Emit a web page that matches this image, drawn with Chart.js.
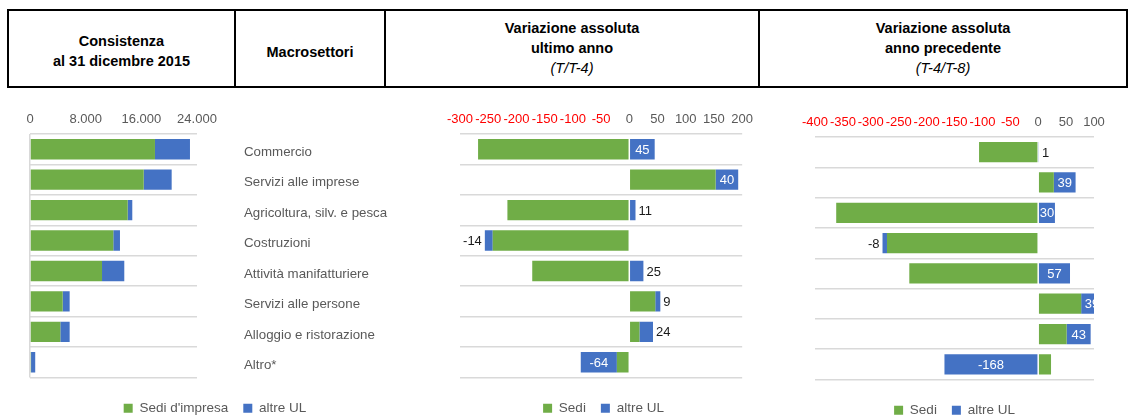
<!DOCTYPE html>
<html>
<head>
<meta charset="utf-8">
<script src="https://cdn.jsdelivr.net/npm/chart.js@4"></script>
<style>
  body { margin: 0; width: 1130px; height: 416px; overflow: hidden; background: #fff;
         position: relative; font-family: "Liberation Sans", Arial, sans-serif; }
  #head { position: absolute; left: 7px; top: 9px; width: 1117px; height: 75px; border: 2px solid #000; }
  .sep { position: absolute; top: 0; width: 2px; height: 75px; background: #000; }
  .cell { position: absolute; top: 0; height: 75px; text-align: center; color: #000;
          font-size: 14.5px; font-weight: bold; }
  .cell div { position: absolute; left: 0; right: 0; line-height: 20px; }
  .cell .it { font-style: italic; font-weight: normal; }
  canvas { position: absolute; }
</style>
</head>
<body>

<div id="head">
  <div class="cell" style="left:0;width:225px">
    <div style="top:20px">Consistenza</div>
    <div style="top:40px">al 31 dicembre 2015</div>
  </div>
  <div class="sep" style="left:225px"></div>
  <div class="cell" style="left:227px;width:148px">
    <div style="top:31px">Macrosettori</div>
  </div>
  <div class="sep" style="left:375px"></div>
  <div class="cell" style="left:377px;width:372px">
    <div style="top:7px">Variazione assoluta</div>
    <div style="top:27px">ultimo anno</div>
    <div class="it" style="top:47px">(T/T-4)</div>
  </div>
  <div class="sep" style="left:749px"></div>
  <div class="cell" style="left:751px;width:366px">
    <div style="top:7px">Variazione assoluta</div>
    <div style="top:27px">anno precedente</div>
    <div class="it" style="top:47px">(T-4/T-8)</div>
  </div>
</div>

<canvas id="c1" width="400" height="325" style="left:0;top:100px"></canvas>
<canvas id="c2" width="320" height="325" style="left:440px;top:100px"></canvas>
<canvas id="c3" width="322" height="325" style="left:790px;top:102px"></canvas>

<script>
// ---- dati ----
const categories = ['Commercio', 'Servizi alle imprese', 'Agricoltura, silv. e pesca', 'Costruzioni',
  'Attività manifatturiere', 'Servizi alle persone', 'Alloggio e ristorazione', 'Altro*'];

// consistenza al 31/12/2015
const stockSedi  = [17960, 16340, 14040, 11970, 10350, 4700, 4360, 150];
const stockAltre = [5030, 4020, 660, 960, 3200, 1000, 1340, 600];

// variazione ultimo anno (T/T-4)
const varSedi  = [-268, 153, -216, -242, -172, 46, 18, -22];
const varAltre = [45, 40, 11, -14, 25, 9, 24, -64];

// variazione anno precedente (T-4/T-8)
const prevSedi  = [-106, 28, -362, -271, -231, 77, 51, 23];
const prevAltre = [1, 39, 30, -8, 57, 39, 43, -168];

// assi
const stockTicks = [0, 8000, 16000, 24000];
const varTicks  = [-300, -250, -200, -150, -100, -50, 0, 50, 100, 150, 200];
const prevTicks = [-400, -350, -300, -250, -200, -150, -100, -50, 0, 50, 100];

const GREEN = '#70ad47';
const BLUE = '#4472c4';
const GRID = '#d9d9d9';
const TXT = '#595959';
const FONT = '"Liberation Sans", Arial, sans-serif';

Chart.defaults.font.family = FONT;
Chart.defaults.color = TXT;

const fmt = v => String(v).replace(/\B(?=(\d{3})+(?!\d))/g, '.');

// etichette della serie "altre UL": dentro la barra se ci sta, altrimenti fuori
const barLabels = {
  id: 'barLabels',
  afterDatasetsDraw(chart) {
    const ds = chart.data.datasets[1];
    const meta = chart.getDatasetMeta(1);
    const a = chart.chartArea;
    const ctx = chart.ctx;
    ctx.save();
    ctx.beginPath();
    ctx.rect(a.left, a.top, a.right - a.left, a.bottom - a.top);
    ctx.clip();
    ctx.font = '13px ' + FONT;
    ctx.textBaseline = 'middle';
    meta.data.forEach((bar, i) => {
      const v = ds.data[i];
      const t = String(v);
      const w = ctx.measureText(t).width;
      const len = Math.abs(bar.x - bar.base);
      if (len >= w + 1) {
        ctx.fillStyle = '#fff';
        ctx.textAlign = 'center';
        ctx.fillText(t, (bar.x + bar.base) / 2, bar.y + 1);
      } else if (v >= 0) {
        ctx.fillStyle = '#1a1a1a';
        ctx.textAlign = 'left';
        ctx.fillText(t, Math.max(bar.x, bar.base) + 3, bar.y + 1);
      } else {
        ctx.fillStyle = '#1a1a1a';
        ctx.textAlign = 'right';
        ctx.fillText(t, Math.min(bar.x, bar.base) - 3, bar.y + 1);
      }
    });
    ctx.restore();
  }
};

function makeChart(id, sedi, altre, names, ticks, opts) {
  const tickSet = ticks;
  return new Chart(document.getElementById(id), {
    type: 'bar',
    data: {
      labels: categories,
      datasets: [
        { label: names[0], data: sedi, backgroundColor: GREEN, barPercentage: 0.67, categoryPercentage: 1 },
        { label: names[1], data: altre, backgroundColor: BLUE, barPercentage: 0.67, categoryPercentage: 1 }
      ]
    },
    options: {
      indexAxis: 'y',
      responsive: false,
      animation: false,
      layout: { padding: opts.padding },
      plugins: {
        tooltip: { enabled: false },
        legend: {
          position: 'bottom',
          labels: { boxWidth: 9, boxHeight: 9, padding: 15, color: TXT, font: { size: 13.5 } }
        }
      },
      scales: {
        x: {
          type: 'linear',
          position: 'top',
          stacked: true,
          min: tickSet[0],
          max: tickSet[tickSet.length - 1],
          afterBuildTicks: s => { s.ticks = tickSet.map(v => ({ value: v })); },
          afterFit: s => { s.height = opts.axisH; },
          border: { display: false },
          grid: {
            drawTicks: false,
            color: c => (opts.zeroLine && c.tick && c.tick.value === 0) ? GRID : 'rgba(0,0,0,0)',
            lineWidth: 1.5
          },
          ticks: {
            autoSkip: false,
            maxRotation: 0,
            padding: 7,
            font: { size: 13 },
            color: c => (c.tick && c.tick.value < 0) ? '#ff0000' : TXT,
            callback: v => fmt(v)
          }
        },
        xPad: {
          type: 'linear',
          axis: 'x',
          position: 'bottom',
          display: true,
          border: { display: false },
          grid: { display: false },
          ticks: { display: false },
          afterFit: s => { s.height = 9; }
        },
        y: {
          position: opts.yPos,
          stacked: true,
          border: { display: false },
          grid: { color: GRID, lineWidth: 1.5, drawTicks: false },
          ticks: {
            display: opts.showCats,
            padding: 47,
            labelOffset: 3,
            color: TXT,
            font: { size: 13.3 }
          },
          afterFit: s => {
            s.width = opts.yW;
            s.paddingTop = 0;
            s.paddingBottom = 0;
          }
        }
      }
    },
    plugins: opts.labels ? [barLabels] : []
  });
}

makeChart('c1', stockSedi, stockAltre, ["Sedi d'impresa", 'altre UL'], stockTicks,
  { padding: { left: 30, right: 0, top: 0, bottom: 0 }, axisH: 34, yPos: 'right', yW: 203,
    showCats: true, zeroLine: true, labels: false });

makeChart('c2', varSedi, varAltre, ['Sedi', 'altre UL'], varTicks,
  { padding: { left: 17, right: 10, top: 0, bottom: 0 }, axisH: 34, yPos: 'left', yW: 0,
    showCats: false, zeroLine: false, labels: true });

makeChart('c3', prevSedi, prevAltre, ['Sedi', 'altre UL'], prevTicks,
  { padding: { left: 25, right: 18, top: 0, bottom: 0 }, axisH: 35, yPos: 'left', yW: 0,
    showCats: false, zeroLine: false, labels: true });
</script>
</body>
</html>
